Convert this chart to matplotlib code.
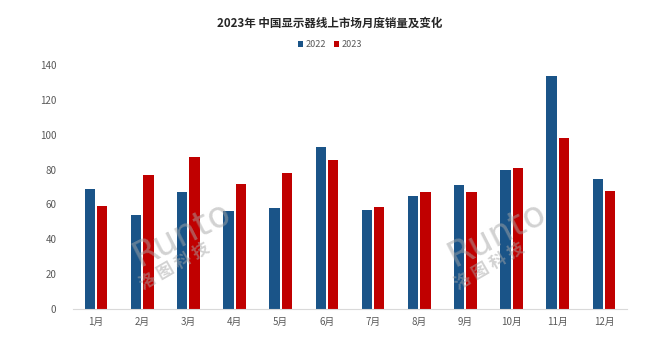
import matplotlib
matplotlib.use("Agg")
import matplotlib.pyplot as plt
import numpy as np

plt.rcParams['font.family'] = ['Noto Sans CJK SC', 'DejaVu Sans']

months = ['1月', '2月', '3月', '4月', '5月', '6月', '7月', '8月', '9月', '10月', '11月', '12月']
sales_2022 = [69, 54, 67, 56, 58, 93, 57, 65, 71, 80, 134, 74.5]
sales_2023 = [59, 77, 87.5, 71.5, 78, 85.5, 58.5, 67, 67, 81, 98, 68]
yticks = [0, 20, 40, 60, 80, 100, 120, 140]

c22 = '#1a5488'
c23 = '#c00000'

fig = plt.figure(figsize=(6.6, 3.39), dpi=100)
ax = fig.add_axes([0.1106, 0.0885, 0.8394, 0.7195])

x = np.arange(len(months))
w = 0.225
ax.bar(x - w/2 - 0.02, sales_2022, width=w, color=c22, label='2022')
ax.bar(x + w/2 + 0.02, sales_2023, width=w, color=c23, label='2023')

ax.set_xlim(-0.5, len(months) - 0.5)
ax.set_ylim(0, 140)
ax.set_yticks(yticks)
ax.set_xticks(x)
ax.set_xticklabels(months)
ax.tick_params(axis='both', length=0, labelsize=7, colors='#595959')
ax.tick_params(axis='y', pad=12)
ax.tick_params(axis='x', pad=6)
for s in ['top', 'right', 'left']:
    ax.spines[s].set_visible(False)
ax.spines['bottom'].set_color('#d9d9d9')
ax.spines['bottom'].set_linewidth(0.8)

fig.text(0.5, 0.932, '2023年 中国显示器线上市场月度销量及变化', ha='center', va='center',
         fontsize=8.3, fontweight='bold', color='#262626')

leg = fig.legend(loc='center', bbox_to_anchor=(0.5, 0.868), ncol=2, frameon=False,
                 fontsize=6.5, handlelength=0.6, handleheight=0.6, handletextpad=0.3,
                 columnspacing=0.8, labelcolor='#595959')

# watermark
for cx in [0.275, 0.752]:
    fig.text(cx, 0.31, 'Runto', ha='center', va='center', fontsize=26, color='#a6a6a6',
             alpha=0.5, rotation=27, family='DejaVu Sans')
    fig.text(cx - 0.01, 0.215, '洛 图 科 技', ha='center', va='center', fontsize=12,
             color='#a6a6a6', alpha=0.5, rotation=30, fontweight='bold')

fig.savefig('out.png', dpi=100)
